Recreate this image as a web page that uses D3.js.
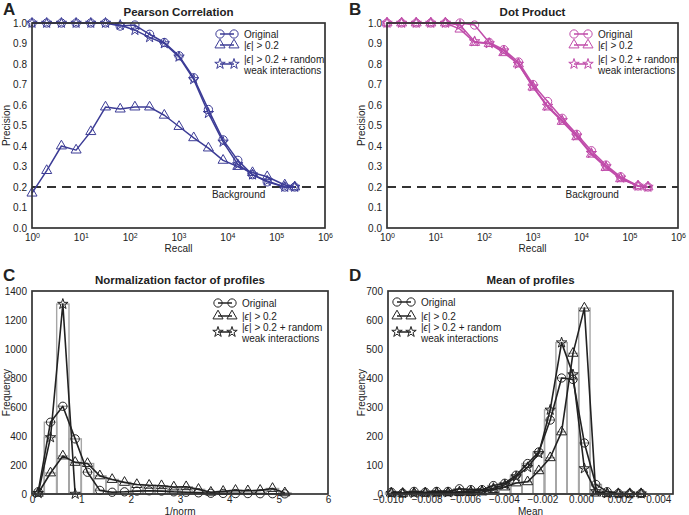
<!DOCTYPE html>
<html><head><meta charset="utf-8">
<script src="https://cdn.jsdelivr.net/npm/d3@7"></script>
<style>
body{margin:0;background:#fff}
svg{display:block}
text{font-family:"Liberation Sans",Arial,sans-serif;fill:#222}
</style>
</head><body>
<svg id="c" width="689" height="515"></svg>
<script>
// ---------------- DATA ----------------
const recall = [1,2,4,8,16,32,64,128,256,512,1024,2048,4096,8192,16384,32768,65536,150000,240000];
const pearsonOriginal = [1,1,1,1,1,1,0.985,0.99,0.945,0.905,0.84,0.733,0.578,0.43,0.33,0.26,0.225,0.20,0.20];
const pearsonEps      = [0.17,0.28,0.40,0.38,0.47,0.59,0.58,0.59,0.59,0.55,0.495,0.44,0.39,0.33,0.30,0.27,0.25,0.21,0.20];
const pearsonRandom   = [1,1,1,1,1,1,0.99,0.965,0.93,0.90,0.835,0.725,0.56,0.42,0.31,0.26,0.23,0.20,0.20];
const dotOriginal = [1,1,1,1,1,1.0,0.99,0.905,0.87,0.81,0.70,0.617,0.535,0.457,0.377,0.307,0.25,0.205,0.20];
const dotEps      = [1,1,1,1,1,0.97,0.905,0.90,0.855,0.80,0.687,0.59,0.52,0.445,0.36,0.295,0.24,0.205,0.20];
const dotRandom   = [1,1,1,1,1,0.99,0.91,0.90,0.865,0.80,0.69,0.595,0.525,0.45,0.365,0.30,0.245,0.205,0.20];
const background = 0.2;
const backgroundLabelAt = 17000;

const normBins = [0.125,0.375,0.625,0.875,1.125,1.375,1.625,1.875,2.125,2.375,2.625,2.875,3.125,3.375,3.625,3.875,4.125,4.375,4.625,4.875,5.125];
const normBinWidth = 0.25;
const normOriginal = [15,495,605,380,150,25,12,15,20,22,20,15,12,8,5,4,3,3,2,2,1];
const normEps      = [5,145,262,218,210,125,100,80,65,60,57,48,50,32,12,18,25,22,25,38,8];
const normRandom   = [5,390,1310,0];

const meanBins = [-0.00983,-0.00924,-0.00865,-0.00807,-0.00748,-0.00689,-0.00630,-0.00571,-0.00513,-0.00454,-0.00395,-0.00336,-0.00277,-0.00219,-0.00160,-0.00101,-0.00042,0.00017,0.00076,0.00135,0.00193,0.00252,0.00311];
const meanBinWidth = 0.000588;
const meanOriginal = [6,3,9,6,9,9,18,15,15,29,37,65,105,145,255,400,395,176,33,8,2,1,2];
const meanEps      = [3,2,3,3,3,4,5,5,7,15,24,38,42,80,125,214,485,641,3,1,1,1,1];
const meanRandom   = [3,2,3,4,5,5,8,10,12,20,32,60,92,140,290,522,412,88,9,2,1,1,1];

const precTicks = [0,0.1,0.2,0.3,0.4,0.5,0.6,0.7,0.8,0.9,1.0];
const recallTicks = [1,10,100,1000,10000,100000,1000000];
const normXTicks = [0,1,2,3,4,5,6];
const normYTicks = [0,200,400,600,800,1000,1200,1400];
const meanXTicks = [-0.010,-0.008,-0.006,-0.004,-0.002,0.000,0.002,0.004];
const meanYTicks = [0,100,200,300,400,500,600,700];

// ---------------- DRAW ----------------
const svg = d3.select("#c");
const SYM = {circle: d3.symbolCircle, triangle: d3.symbolTriangle, star: d3.symbolStar};
const SYMSIZE = {circle: 54, triangle: 44, star: 34};

function marker(g, sym, x, y, color){
  g.append("path").attr("d", d3.symbol().type(SYM[sym]).size(SYMSIZE[sym])())
    .attr("transform", `translate(${x},${y})`)
    .attr("fill","none").attr("stroke",color).attr("stroke-width",1);
}

function frame(x0,x1,y0,y1){
  svg.append("rect").attr("x",x0).attr("y",y0).attr("width",x1-x0).attr("height",y1-y0)
    .attr("fill","none").attr("stroke","#333").attr("stroke-width",1.7);
}

function yAxis(y, x0, ticks, fmt){
  const g = svg.append("g").attr("transform",`translate(${x0},0)`)
    .call(d3.axisLeft(y).tickValues(ticks).tickSize(0).tickPadding(5).tickFormat(fmt));
  g.select(".domain").remove();
  g.selectAll("text").attr("font-size","10px").attr("fill","#222")
    .attr("font-family","'Liberation Sans',Arial,sans-serif");
}
function xAxis(x, y0, ticks, fmt, sup, pad){
  const g = svg.append("g").attr("transform",`translate(0,${y0})`)
    .call(d3.axisBottom(x).tickValues(ticks).tickSize(0).tickPadding(pad).tickFormat(fmt));
  g.select(".domain").remove();
  g.selectAll("text").attr("font-size","10px").attr("fill","#222")
    .attr("font-family","'Liberation Sans',Arial,sans-serif");
  if (sup) {
    g.selectAll("text").each(function(d){
      const t = d3.select(this);
      t.text("10");
      t.append("tspan").attr("dy","-0.45em").attr("font-size","7px").text(Math.round(Math.log10(d)));
    });
  }
}

function labels(letter, lx, ly, title, tx, ty, xl, xlx, xly, yl, ylx, yly){
  svg.append("text").attr("x",lx).attr("y",ly).attr("font-size","17px").attr("font-weight","bold").text(letter);
  svg.append("text").attr("x",tx).attr("y",ty).attr("text-anchor","middle").attr("font-size","11.5px").attr("font-weight","bold").text(title);
  svg.append("text").attr("x",xlx).attr("y",xly).attr("text-anchor","middle").attr("font-size","10px").text(xl);
  svg.append("text").attr("transform",`translate(${ylx},${yly}) rotate(-90)`).attr("text-anchor","middle").attr("font-size","10px").text(yl);
}

function seriesLine(xs, ys, x, y, color, sym, width){
  const pts = ys.map((v,i)=>[xs[i], v]);
  svg.append("path").datum(pts)
    .attr("d", d3.line().x(d=>x(d[0])).y(d=>y(d[1])))
    .attr("fill","none").attr("stroke",color).attr("stroke-width",width||1.5).attr("stroke-linejoin","round");
  const g = svg.append("g");
  pts.forEach(p => marker(g, sym, x(p[0]), y(p[1]), color));
}

function legend(x0, yRows, color){
  const g = svg.append("g");
  const rows = [
    {sym:"circle", y:yRows[0]},
    {sym:"triangle", y:yRows[1]},
    {sym:"star", y:yRows[2]}
  ];
  const sep = 14;
  rows.forEach(r=>{
    g.append("line").attr("x1",x0).attr("x2",x0+sep).attr("y1",r.y).attr("y2",r.y).attr("stroke",color).attr("stroke-width",1.5);
    marker(g, r.sym, x0, r.y, color);
    marker(g, r.sym, x0+sep, r.y, color);
  });
  const tx = x0 + sep + 10;
  const fs = "10px";
  g.append("text").attr("x",tx).attr("y",yRows[0]+3.5).attr("font-size",fs).text("Original");
  const e1 = g.append("text").attr("x",tx).attr("y",yRows[1]+3.5).attr("font-size",fs);
  e1.append("tspan").text("|");
  e1.append("tspan").attr("font-style","italic").text("ϵ");
  e1.append("tspan").text("| > 0.2");
  const e2 = g.append("text").attr("x",tx).attr("y",yRows[3]+3.5).attr("font-size",fs);
  e2.append("tspan").text("|");
  e2.append("tspan").attr("font-style","italic").text("ϵ");
  e2.append("tspan").text("| > 0.2 + random");
  g.append("text").attr("x",tx).attr("y",yRows[4]+3.5).attr("font-size",fs).text("weak interactions");
}

function bars(bins, w, vals, x, y){
  svg.append("g").selectAll("rect").data(vals.map((v,i)=>[bins[i],v])).join("rect")
    .attr("x", d=>x(d[0]-w/2)).attr("width", d=>x(d[0]+w/2)-x(d[0]-w/2))
    .attr("y", d=>y(d[1])).attr("height", d=>y(0)-y(d[1]))
    .attr("fill","none").attr("stroke","#a6a6a6").attr("stroke-width",1.4);
}

// ----- Panel A & B -----
function prPanel(letter, title, px0, px1, color, sOrig, sEps, sRand, legendX, letterX){
  const py0 = 23, py1 = 228;
  const x = d3.scaleLog().domain([1,1e6]).range([px0,px1]);
  const y = d3.scaleLinear().domain([0,1]).range([py1,py0]);
  yAxis(y, px0, precTicks, d3.format(".1f"));
  xAxis(x, py1, recallTicks, null, true, 6);
  svg.append("line").attr("x1",px0).attr("x2",px1).attr("y1",y(background)).attr("y2",y(background))
    .attr("stroke","#333").attr("stroke-width",1.8).attr("stroke-dasharray","9,6");
  svg.append("text").attr("x",x(backgroundLabelAt)).attr("y",y(background)+10.5).attr("text-anchor","middle")
    .attr("font-size","10px").attr("fill","#333").text("Background");
  seriesLine(recall, sEps, x, y, color, "triangle", 1.5);
  seriesLine(recall, sOrig, x, y, color, "circle", 1.5);
  seriesLine(recall, sRand, x, y, color, "star", 1.5);
  frame(px0,px1,py0,py1);
  legend(legendX, [34,45,64,59,70], color);
  labels(letter, letterX, 15, title, (px0+px1)/2, 16, "Recall", (px0+px1)/2, 252, "Precision", px0-22, (py0+py1)/2);
}
prPanel("A", "Pearson Correlation", 32, 325, "#3c3c96", pearsonOriginal, pearsonEps, pearsonRandom, 220, 3);
prPanel("B", "Dot Product", 387, 678, "#c04caa", dotOriginal, dotEps, dotRandom, 574, 349);

// ----- Panel C -----
(function(){
  const px0=32, px1=328, py0=291, py1=494;
  const x = d3.scaleLinear().domain([0,6]).range([px0,px1]);
  const y = d3.scaleLinear().domain([0,1400]).range([py1,py0]);
  yAxis(y, px0, normYTicks, d3.format("d"));
  xAxis(x, py1, normXTicks, d3.format("d"), false, 1.5);
  bars(normBins, normBinWidth, normEps, x, y);
  bars(normBins, normBinWidth, normOriginal, x, y);
  bars(normBins, normBinWidth, normRandom, x, y);
  seriesLine(normBins, normEps, x, y, "#222", "triangle", 1.6);
  seriesLine(normBins, normOriginal, x, y, "#222", "circle", 1.6);
  seriesLine(normBins.slice(0, normRandom.length), normRandom, x, y, "#222", "star", 1.6);
  frame(px0,px1,py0,py1);
  legend(218, [303,316,332,327,338], "#222");
  labels("C", 3, 281, "Normalization factor of profiles", (px0+px1)/2, 284, "1/norm", (px0+px1)/2, 514.5, "Frequency", 10, (py0+py1)/2);
})();

// ----- Panel D -----
(function(){
  const px0=388, px1=673, py0=291, py1=494;
  const x = d3.scaleLinear().domain([-0.010,0.00476]).range([px0,px1]);
  const y = d3.scaleLinear().domain([0,700]).range([py1,py0]);
  yAxis(y, px0, meanYTicks, d3.format("d"));
  xAxis(x, py1, meanXTicks, d3.format(".3f"), false, 1.5);
  bars(meanBins, meanBinWidth, meanEps, x, y);
  bars(meanBins, meanBinWidth, meanOriginal, x, y);
  bars(meanBins, meanBinWidth, meanRandom, x, y);
  seriesLine(meanBins, meanEps, x, y, "#222", "triangle", 1.6);
  seriesLine(meanBins, meanOriginal, x, y, "#222", "circle", 1.6);
  seriesLine(meanBins, meanRandom, x, y, "#222", "star", 1.6);
  frame(px0,px1,py0,py1);
  legend(397, [302,316,332,327,338], "#222");
  labels("D", 349, 281, "Mean of profiles", (px0+px1)/2, 284, "Mean", (px0+px1)/2, 514.5, "Frequency", 365, (py0+py1)/2);
})();
</script>
</body></html>
